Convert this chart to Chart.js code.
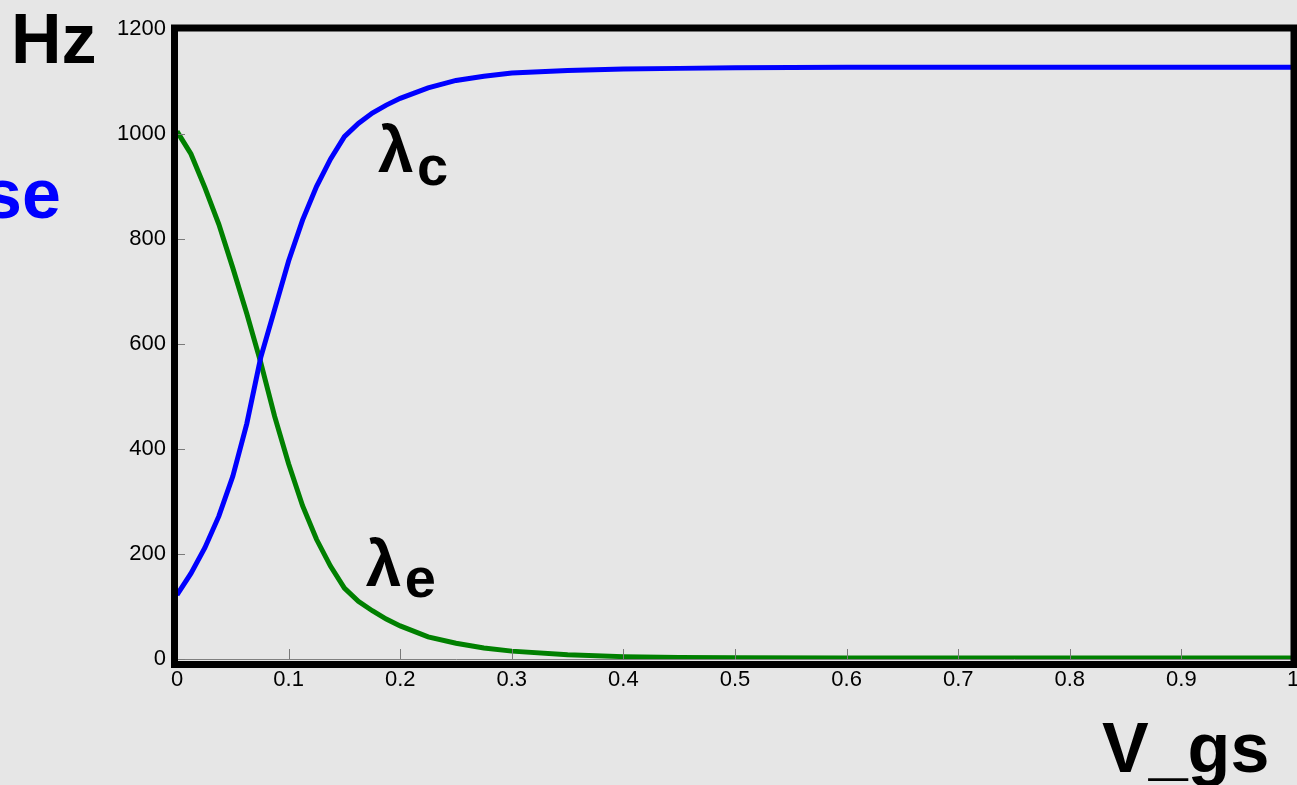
<!DOCTYPE html>
<html>
<head>
<meta charset="utf-8">
<script src="https://cdn.jsdelivr.net/npm/chart.js@4.4.1/dist/chart.umd.min.js"></script>
<style>
  html, body { margin:0; padding:0; background:#e6e6e6; }
  #wrap { width:1297px; height:785px; }
</style>
</head>
<body>
<div id="wrap"><canvas id="rateChart" width="1297" height="785"></canvas></div>
<script>
// =====================================================
// Rates vs V_gs
// =====================================================

// ---------- Data ----------

const vgs = [
  0, 0.0125, 0.025, 0.0375, 0.05, 0.0625, 0.075, 0.0875, 0.1, 0.1125,
  0.125, 0.1375, 0.15, 0.1625, 0.175, 0.1875, 0.2, 0.225, 0.25, 0.275,
  0.3, 0.35, 0.4, 0.45, 0.5, 0.6, 0.7, 0.8, 0.9, 1.0
];

const lambdaC = [
  122, 163, 212, 272, 348, 448, 574, 666, 758, 836,
  900, 952, 995, 1020, 1040, 1055, 1068, 1088, 1102, 1110,
  1116, 1121, 1124, 1125, 1126, 1127, 1127, 1127, 1127, 1127
];

const lambdaE = [
  1005, 962, 898, 828, 745, 658, 565, 462, 372, 292,
  228, 177, 135, 110, 92, 76, 63, 42, 30, 21,
  15, 8, 4.5, 3, 2.5, 2, 2, 2, 2, 2
];

const xTicks = [0, 0.1, 0.2, 0.3, 0.4, 0.5, 0.6, 0.7, 0.8, 0.9, 1];
const yTicks = [0, 200, 400, 600, 800, 1000, 1200];

const toPoints = ys => vgs.map((x, i) => ({ x: x, y: ys[i] }));


// =====================================================
// Frame, inner ticks and labels
// =====================================================

const framePlugin = {

  id: "frame",

  afterDraw(chart){

    const ctx = chart.ctx;
    const a = chart.chartArea;
    const xs = chart.scales.x;
    const ys = chart.scales.y;

    ctx.save();

    // inner tick marks
    ctx.strokeStyle = "#7a7a7a";
    ctx.lineWidth = 1;

    xTicks.forEach(v => {
      const px = Math.round(xs.getPixelForValue(v)) + 0.5;
      ctx.beginPath();
      ctx.moveTo(px, a.bottom);
      ctx.lineTo(px, a.bottom - 10);
      ctx.stroke();
    });

    yTicks.forEach(v => {
      const py = Math.round(ys.getPixelForValue(v)) + 0.5;
      ctx.beginPath();
      ctx.moveTo(a.left, py);
      ctx.lineTo(a.left + 8, py);
      ctx.stroke();
    });

    // thick black box
    ctx.strokeStyle = "#000000";
    ctx.lineWidth = 7;
    ctx.strokeRect(a.left - 2.5, a.top - 1, (a.right + 1) - (a.left - 2.5), (a.bottom + 5.5) - (a.top - 1));

    // curve labels
    ctx.fillStyle = "#000000";
    ctx.textBaseline = "alphabetic";
    ctx.textAlign = "left";

    const cx = xs.getPixelForValue(0.182);
    const cy = ys.getPixelForValue(928);
    ctx.font = "bold 64px 'Liberation Sans', Arial, sans-serif";
    ctx.fillText("λ", cx - 2, cy);
    ctx.font = "bold 56px 'Liberation Sans', Arial, sans-serif";
    ctx.fillText("c", cx + 37, cy + 13);

    const ex = xs.getPixelForValue(0.171);
    const ey = ys.getPixelForValue(139);
    ctx.font = "bold 64px 'Liberation Sans', Arial, sans-serif";
    ctx.fillText("λ", ex - 2, ey);
    ctx.font = "bold 56px 'Liberation Sans', Arial, sans-serif";
    ctx.fillText("e", ex + 37, ey + 11);

    // axis titles and stray text
    ctx.font = "bold 70px 'Liberation Sans', Arial, sans-serif";
    ctx.fillText("Hz", 11, 63);
    ctx.fillText("V_gs", 1102, 772);

    ctx.fillStyle = "#0000ff";
    ctx.fillText("se", -17, 218);

    ctx.restore();

  }

};


// =====================================================
// Chart
// =====================================================

const rateChart = new Chart(document.getElementById("rateChart"), {

  type: "line",

  data: {

    datasets: [

      {
        label: "lambda_c",
        data: toPoints(lambdaC),
        borderColor: "#0000ff",
        borderWidth: 5,
        pointRadius: 0,
        tension: 0,
        fill: false
      },

      {
        label: "lambda_e",
        data: toPoints(lambdaE),
        borderColor: "#008000",
        borderWidth: 5,
        pointRadius: 0,
        tension: 0,
        fill: false
      }

    ]

  },

  options: {

    responsive: false,
    animation: false,

    layout: {
      padding: { left: 0, top: 29, right: 4, bottom: 0 }
    },

    plugins: {
      legend: { display: false },
      tooltip: { enabled: false }
    },

    scales: {

      x: {
        type: "linear",
        min: 0,
        max: 1,
        afterBuildTicks: scale => { scale.ticks = xTicks.map(v => ({ value: v })); },
        afterFit: scale => {
          scale.height = 126;
          scale.paddingLeft = 0;
          scale.paddingRight = 0;
        },
        grid: { display: false, drawTicks: false },
        border: { display: true, color: "#808080", width: 1 },
        ticks: {
          color: "#000000",
          padding: 8,
          maxRotation: 0,
          autoSkip: false,
          font: { family: "'Liberation Sans', Arial, sans-serif", size: 22 },
          callback: v => String(v)
        }
      },

      y: {
        type: "linear",
        min: 0,
        max: 1200,
        afterBuildTicks: scale => { scale.ticks = yTicks.map(v => ({ value: v })); },
        afterFit: scale => {
          scale.width = 177;
          scale.paddingTop = 0;
          scale.paddingBottom = 0;
        },
        grid: { display: false, drawTicks: false },
        border: { display: false },
        ticks: {
          color: "#000000",
          padding: 11,
          autoSkip: false,
          font: { family: "'Liberation Sans', Arial, sans-serif", size: 22 },
          callback: v => String(v)
        }
      }

    }

  },

  plugins: [framePlugin]

});
</script>
</body>
</html>
